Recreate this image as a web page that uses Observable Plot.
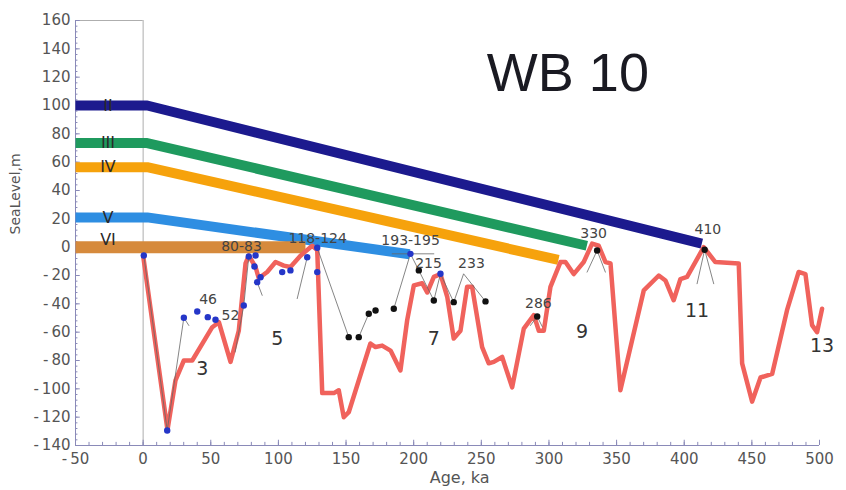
<!DOCTYPE html>
<html><head><meta charset="utf-8">
<script src="https://cdn.jsdelivr.net/npm/d3@7"></script>
<script src="https://cdn.jsdelivr.net/npm/@observablehq/plot@0.6"></script>
<style>
body{margin:0;background:#fff;}
#chart{width:846px;height:490px;overflow:hidden;}
</style></head><body><div id="chart"></div>
<script>
// ---- sea-level curve (red) ----
const curveAge = [0,18,23.9,30.1,36.3,51.1,56,64.6,70.7,75.7,78.1,83.1,85.5,91.7,97.9,104,108.9,116.3,125,128.7,132.4,141,144.6,148.3,152,168,171.8,176.7,182.9,190.2,195.2,200.1,206.3,210,214.9,219.8,224.8,229.6,234.6,239.5,243.2,250.6,255.5,259.2,265.4,272.8,281.4,288.8,292.5,296.2,301.1,308.5,312.2,318.3,325.7,331.9,336.8,341.8,345.5,352.8,370.1,381.2,386.1,392.2,397.2,402.1,414.4,423,440.3,442.8,450.2,456.4,465,476,484.6,489.6,494.5,498.2,501.9];
const curveLevel = [-6,-129,-94,-80,-80,-56.5,-53,-81,-59,-11.5,-6,-14,-22,-17.5,-10.5,-13,-14,-6,1,-2,-103,-103,-101,-120,-116.5,-68,-70.5,-69.5,-73,-87,-51.5,-27,-25.5,-32,-21,-19,-35,-64.5,-59,-28,-28,-70.5,-82,-81,-77.5,-99,-57.5,-48,-59,-59,-28,-10.5,-10.5,-19,-10.5,2.5,1,-10.5,-11.5,-101,-30.5,-20,-23.5,-37.5,-22.5,-21,0,-10.5,-11.5,-82,-109,-92,-89.5,-44.5,-17.5,-19,-55,-60,-43.5];

// ---- terrace bands ----
const bandNames = ["II","III","IV","V","VI"];
const bandColors = ["#1c1a8e","#1f9a5e","#f6a20c","#2e8ee2","#d68a3c"];
const bandPlateau = [100, 73.5, 56.5, 21, 0];
const bandEndAge = [413, 328, 307, 197, 120];
const bandEndLevel = [2.5, 1, -9, -5, 0];
const bandStartAge = -50;
const bandKneeAge = 3;
const bandLabelAge = -26;
const bandLabelLevel = [100, 73.5, 56.5, 21, 5.5];

// ---- dated samples ----
const blueAge = [0.5,17.8,30.1,40,47.8,53.5,74.4,78.1,83.1,82.3,84.3,86.8,102.8,108.9,121.3,128.7,128.7,197.6,219.8];
const blueLevel = [-5.9,-129.4,-49.8,-45.4,-49.4,-51.2,-41.2,-6.6,-5.9,-13.6,-24.7,-21.2,-17.6,-16.4,-7.1,-0.4,-17.6,-4.7,-18.8];
const blackAge = [152,159.4,166.8,171.8,185.3,203.8,214.9,229.6,253.1,291.3,335.6,415.1];
const blackLevel = [-63.5,-63.5,-47,-44.7,-43.5,-16.4,-37.6,-38.8,-38.3,-48.9,-2.3,-1.8];

// thin connector paths [age, level]
const linkPaths = [
  [[0.5,-5.9],[17.8,-129.4],[30.1,-49.8],[33.8,-55.3]],
  [[68,-74],[74.4,-41.2],[78.1,-6.6]],
  [[84.3,-24.7],[88,-34]],
  [[113.9,-36.3],[121.3,-7.1]],
  [[128.7,-0.4],[152,-63.5]],
  [[159.4,-63.5],[166.8,-47]],
  [[185.3,-43.5],[197.6,-4.7],[203.8,-16.4],[214.9,-37.6],[219.8,-18.8],[229.6,-38.8],[236.9,-18.8],[253.1,-38.3]],
  [[184.1,-4.7],[214.9,-4.7]],
  [[286.3,-55.3],[291.3,-48.9],[295,-56]],
  [[328.2,-17.6],[335.6,-2.3],[341.7,-17.6]],
  [[409.5,-25.8],[415.1,-1.8],[421.8,-25.8]]
];

// ---- labels ----
const peakLabels = ["46","52","80-83","118-124","193-195","215","233","286","330","410"];
const peakLabelAge = [48, 64.6, 72.7, 129, 197.7, 211, 242.7, 292.2, 333, 417.5];
const peakLabelLevel = [-37.1, -48.2, 0.5, 5.9, 4.7, -11.7, -11.3, -40, 9.5, 12.3];
const stageLabels = ["3","5","7","9","11","13"];
const stageAge = [43.7, 99.1, 214.9, 324.5, 409.5, 501.9];
const stageLevel = [-85.8, -64.7, -64.7, -60, -44.7, -69.4];

const titleText = "WB 10";
const titleAge = 314, titleLevel = 122.4;
const xTicks = d3.range(-50, 501, 50);
const xMinor = d3.range(-50, 501, 10);
const yTicks = d3.range(-140, 161, 20);
const yMinor = d3.range(-140, 161, 4);

// ---- build tables ----
const curve = curveAge.map((a, i) => ({age: a, level: curveLevel[i]}));
const bands = bandNames.map((n, i) => ({
  name: n, color: bandColors[i],
  pts: [{age: bandStartAge, level: bandPlateau[i]}, {age: bandKneeAge, level: bandPlateau[i]}, {age: bandEndAge[i], level: bandEndLevel[i]}]
}));
const links = linkPaths.flatMap((p, k) => p.map(([a, l]) => ({age: a, level: l, k})));
const blues = blueAge.map((a, i) => ({age: a, level: blueLevel[i]}));
const blacks = blackAge.map((a, i) => ({age: a, level: blackLevel[i]}));
const peaks = peakLabels.map((t, i) => ({t, age: peakLabelAge[i], level: peakLabelLevel[i]}));
const stages = stageLabels.map((t, i) => ({t, age: stageAge[i], level: stageLevel[i]}));

const axisColor = "#8a8ab8";
const fmt = d => d < 0 ? "-\u2009" + (-d) : String(d);

const plot = Plot.plot({
  width: 846, height: 490,
  marginLeft: 75, marginRight: 27, marginTop: 20, marginBottom: 45,
  style: {fontFamily: "DejaVu Sans", background: "#fff", overflow: "visible"},
  x: {domain: [-50, 500]},
  y: {domain: [-140, 160]},
  marks: [
    // left box frame
    Plot.ruleX([0], {y1: -140, y2: 160, stroke: "#999", strokeWidth: 0.8}),
    Plot.ruleY([160], {x1: -50, x2: 0, stroke: "#999", strokeWidth: 0.8}),
    // axes lines and inward ticks
    Plot.ruleY([-140], {x1: -50, x2: 500, stroke: axisColor, strokeWidth: 1}),
    Plot.ruleX([-50], {y1: -140, y2: 160, stroke: axisColor, strokeWidth: 1}),
    Plot.ruleX(xMinor, {x: d => d, y1: -140, y2: -137.8, stroke: axisColor, strokeWidth: 1}),
    Plot.ruleX(xTicks, {x: d => d, y1: -140, y2: -136.3, stroke: axisColor, strokeWidth: 1}),
    Plot.ruleY(yMinor, {y: d => d, x1: -50, x2: -48.2, stroke: axisColor, strokeWidth: 1}),
    Plot.ruleY(yTicks, {y: d => d, x1: -50, x2: -46.5, stroke: axisColor, strokeWidth: 1}),
    Plot.axisX({ticks: xTicks, tickSize: 0, tickPadding: 8, fontSize: 15, fill: "#555", tickFormat: fmt, label: null}),
    Plot.axisY({ticks: yTicks, tickSize: 0, tickPadding: 5, fontSize: 15, fill: "#555", tickFormat: fmt, label: null}),
    Plot.text(["Age, ka"], {x: () => 234, frameAnchor: "bottom", dy: 37, fontSize: 16, fill: "#555", letterSpacing: "1px"}),
    Plot.text(["SeaLevel,m"], {y: () => 9, frameAnchor: "left", dx: -60, rotate: -90, fontSize: 14, fill: "#555"}),
    // bands
    ...bands.map(b => Plot.line(b.pts, {x: "age", y: "level", stroke: b.color, strokeWidth: b.name === "VI" ? 12 : 10, strokeLinejoin: "round", strokeLinecap: "butt"})),
    Plot.text(bandNames, {x: () => bandLabelAge, y: (d, i) => bandLabelLevel[i], fontSize: 16, fill: "#2a2a2a"}),
    // sea-level curve
    Plot.line(curve, {x: "age", y: "level", stroke: "#f0625c", strokeWidth: 4.5, strokeLinejoin: "round"}),
    // connectors and samples
    Plot.line(links, {x: "age", y: "level", z: "k", stroke: "#666", strokeWidth: 0.8}),
    Plot.dot(blues, {x: "age", y: "level", r: 3.2, fill: "#2536c8"}),
    Plot.dot(blacks, {x: "age", y: "level", r: 3.2, fill: "#111"}),
    // labels
    Plot.text(peaks, {x: "age", y: "level", text: "t", fontSize: 14, fill: "#444"}),
    Plot.text(stages, {x: "age", y: "level", text: "t", fontSize: 19, fill: "#333"}),
    Plot.text([titleText], {x: () => titleAge, y: () => titleLevel, fontSize: 54, fill: "#1a1a22", fontFamily: "Liberation Sans"})
  ]
});
document.getElementById("chart").appendChild(plot);
</script>
</body></html>
